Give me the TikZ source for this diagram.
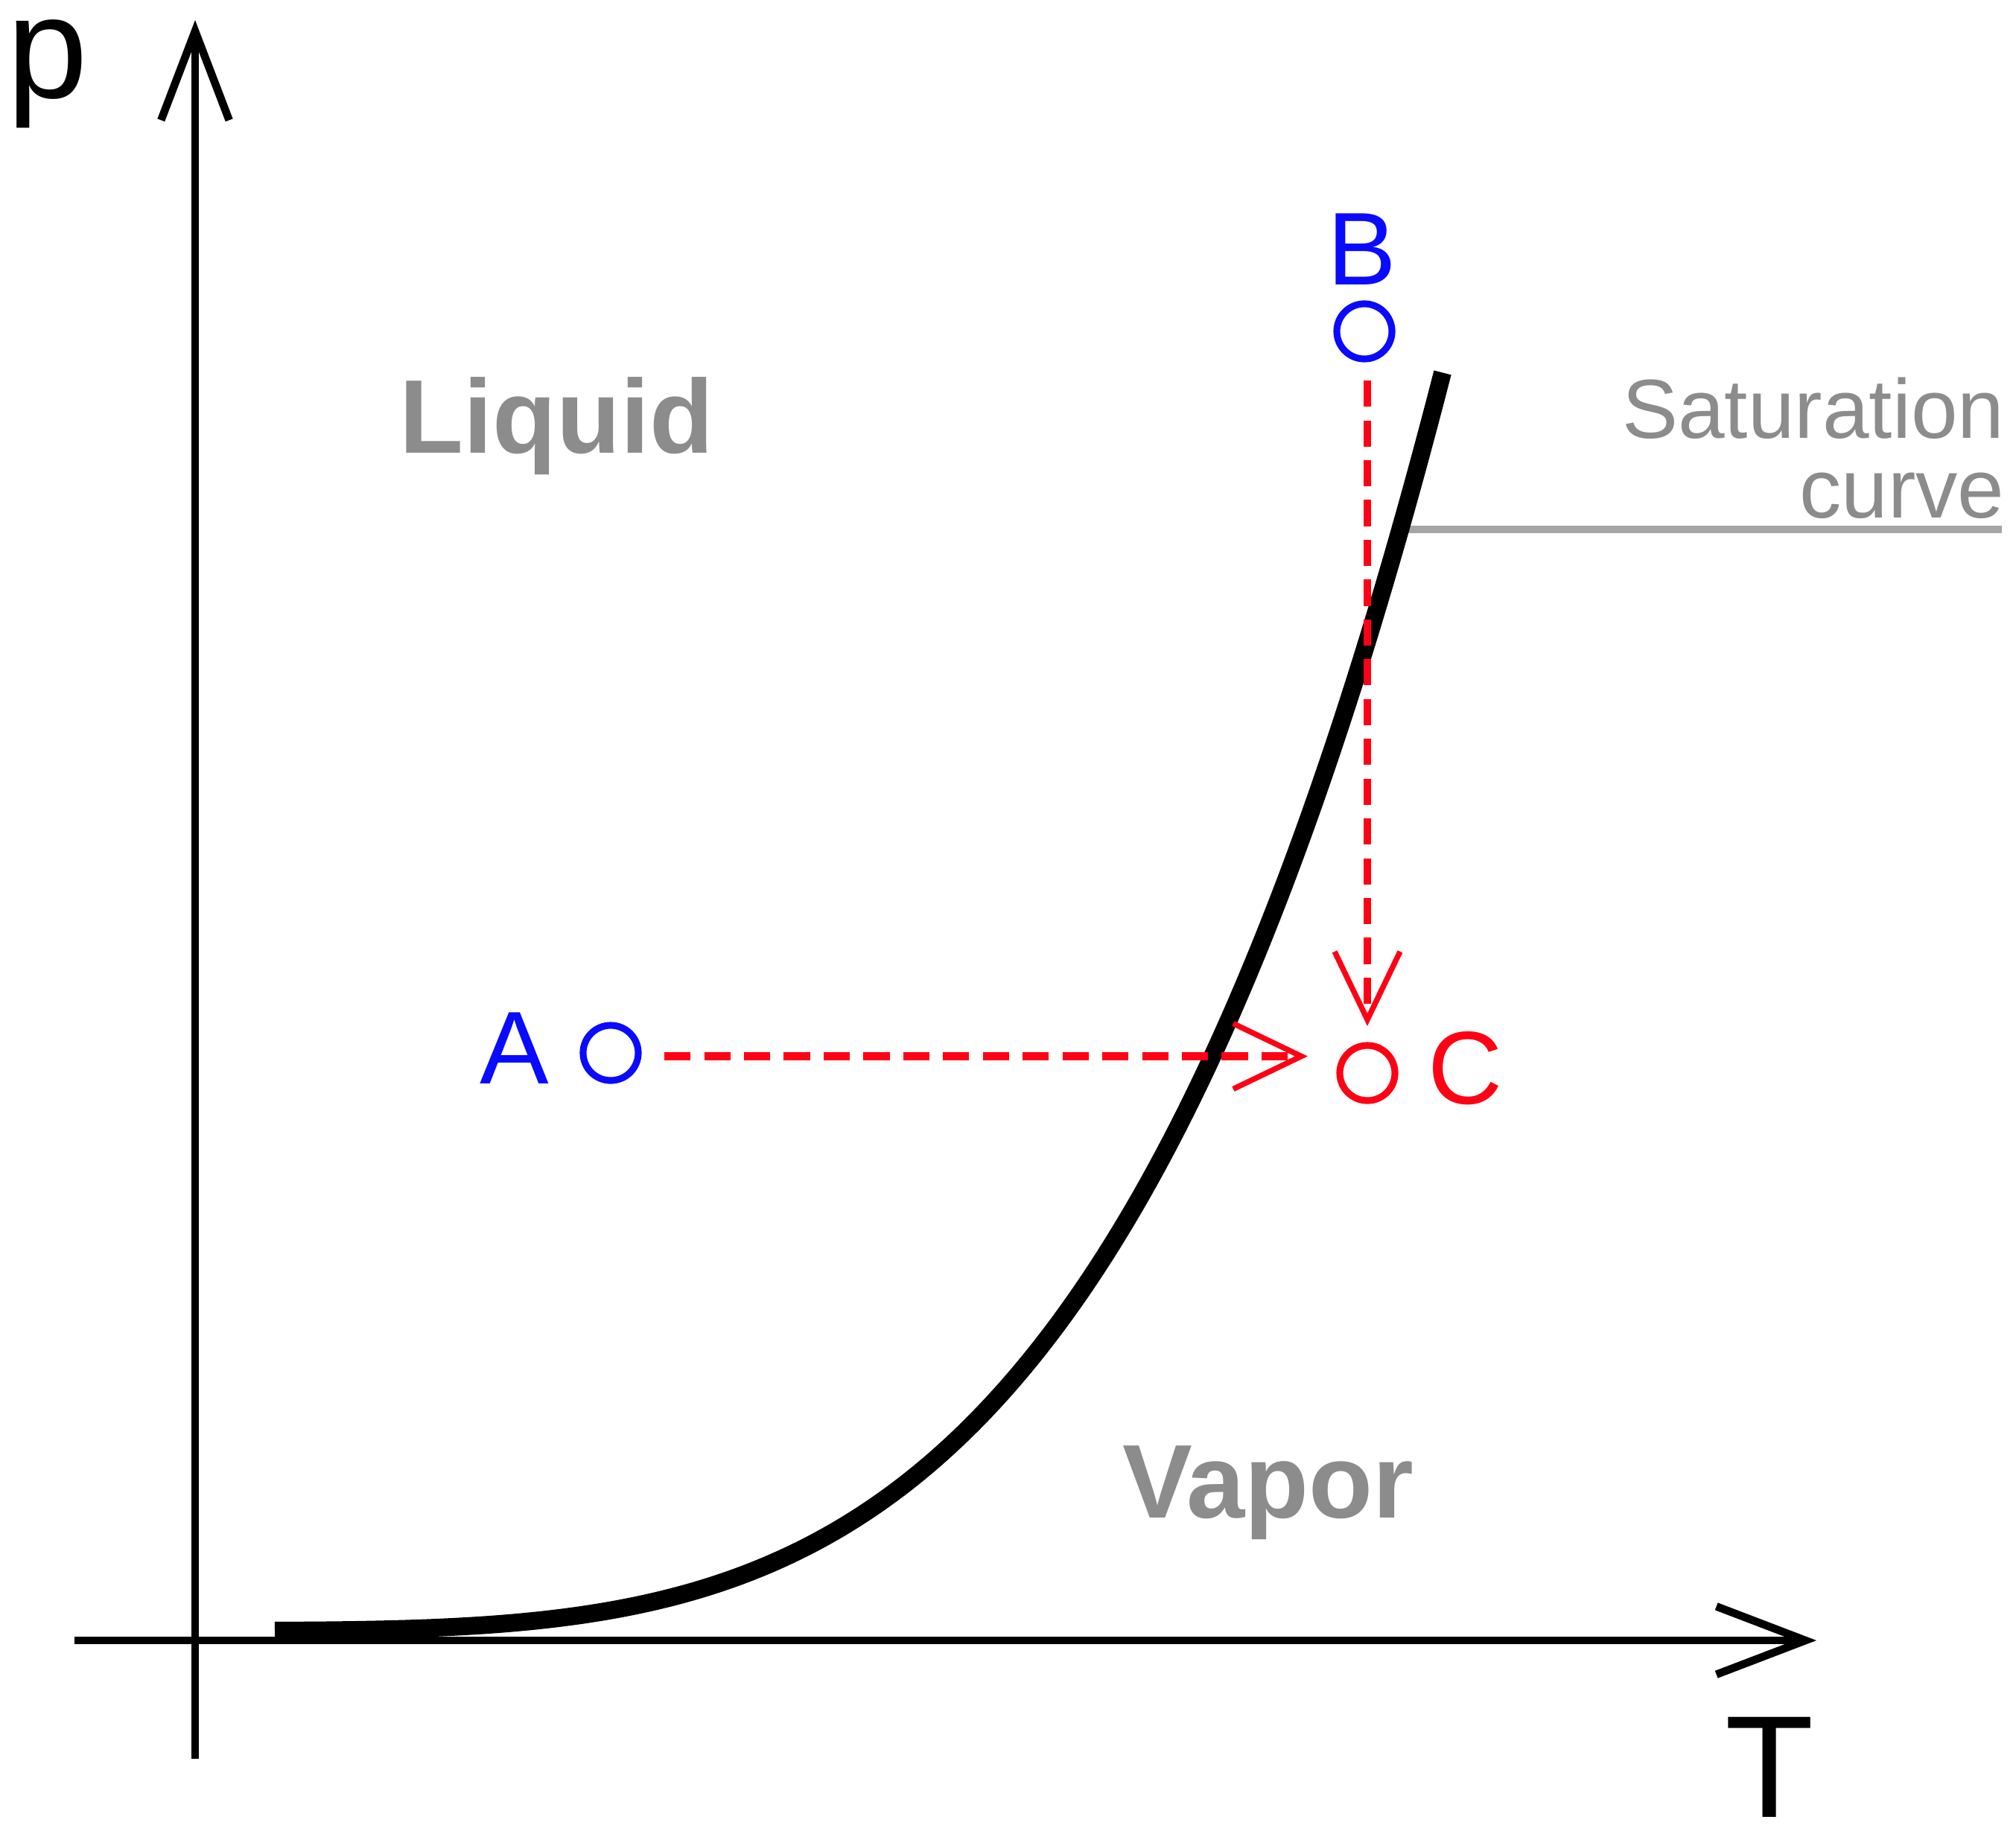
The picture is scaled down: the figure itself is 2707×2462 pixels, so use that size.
\documentclass[tikz,border=0pt]{standalone}
\usepackage{fontspec}
\setmainfont{Liberation Sans}
\usetikzlibrary{arrows.meta}
\definecolor{lblgray}{RGB}{140,140,140}
\definecolor{linegray}{RGB}{165,165,165}
\definecolor{ptblue}{RGB}{10,10,255}
\definecolor{ptred}{RGB}{255,0,20}
\begin{document}
\begin{tikzpicture}[x=0.01cm,y=-0.01cm,
  axisline/.style={line width=3pt,-{Straight Barb[length=34pt,width=26pt]}},
  satcurve/.style={line width=6.8pt,line cap=butt},
  leader/.style={draw=linegray,line width=2.7pt},
  process/.style={draw=ptred,line width=2.9pt,dash pattern=on 10pt off 5.2pt,
    -{Straight Barb[length=26pt,width=25pt,line width=2.1pt]}},
  state/.style={circle,draw,line width=2.6pt,minimum size=0.74cm,inner sep=0pt},
  axislabel/.style={inner sep=0pt,font=\fontsize{55.5}{60}\selectfont},
  ptlabel/.style={inner sep=0pt,anchor=base,font=\fontsize{39.5}{44}\selectfont},
  region/.style={inner sep=0pt,anchor=base,text=lblgray,font=\fontsize{40}{44}\selectfont\bfseries},
  satlabel/.style={inner sep=0pt,anchor=base east,text=lblgray,font=\fontsize{32}{36}\selectfont}]
\useasboundingbox (0,0) rectangle (2707,2462);

% axes
\coordinate (yb) at (262,2362);
\coordinate (yt) at (262,27);
\coordinate (xl) at (100,2203);
\coordinate (xr) at (2439,2203);
\draw[axisline] (yb) -- (yt);
\draw[axisline] (xl) -- (xr);
\node[axislabel,anchor=base west] (plabel) at (9,131) {p};
\node[axislabel,anchor=base west] (Tlabel) at (2316,2440) {T};

% saturation curve and its label
\coordinate (satA) at (1880,711);
\coordinate (satB) at (2688,711);
\draw[leader] (satA) -- (satB);
\draw[satcurve] plot[domain=369:1937,samples=160] (\x,{2190-185.6*((\x-200)/1000)^4});
\node[satlabel] (sat1) at (2692,588) {Saturation};
\node[satlabel] (sat2) at (2692,695) {curve};

% regions
\node[region] (liquid) at (747,608) {Liquid};
\node[region] (vapor) at (1703,2038) {Vapor};

% states
\node[state,draw=ptblue] (A) at (820,1414) {};
\node[state,draw=ptblue] (B) at (1832,445) {};
\node[state,draw=ptred] (C) at (1836,1441) {};
\node[ptlabel,text=ptblue] (Alabel) at (691,1455) {A};
\node[ptlabel,text=ptblue] (Blabel) at (1829,382) {B};
\node[ptlabel,text=ptred] (Clabel) at (1968,1482) {C};

% processes
\draw[process,shorten <=0.305cm,shorten >=0.385cm]
  ([yshift=-0.045cm]A.east) -- ([yshift=-0.045cm]A.east -| C.west);
\draw[process,shorten <=0.245cm,shorten >=0.215cm] (B.south -| C.north) -- (C.north);
\end{tikzpicture}
\end{document}
